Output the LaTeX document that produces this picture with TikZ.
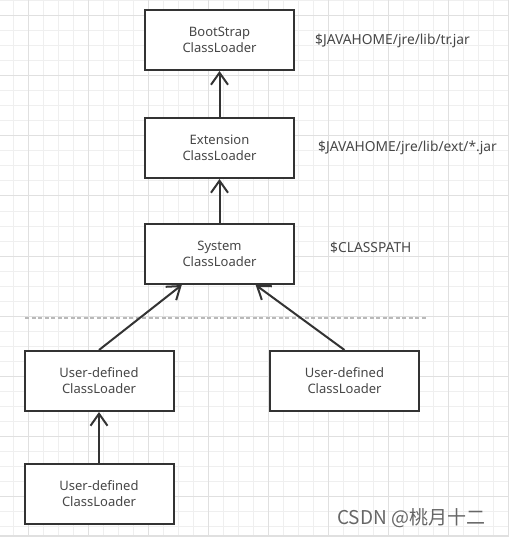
\documentclass[tikz,border=0pt]{standalone}
\usepackage{fontspec}
\setmainfont{Noto Sans}
\newfontfamily\cjk{Noto Sans CJK SC}
\usetikzlibrary{arrows.meta,calc}
\definecolor{ink}{HTML}{333333}
\definecolor{gridminor}{HTML}{EFEFEF}
\definecolor{gridmajor}{HTML}{E0E0E0}
\begin{document}
\begin{tikzpicture}[x=1pt,y=-1pt,
    loader/.style={draw=ink,line width=2pt,fill=white,minimum width=149pt,minimum height=60pt,
      align=center,inner sep=0pt,text=ink!90,font=\fontsize{13}{16}\selectfont},
    pathlabel/.style={anchor=west,inner sep=0pt,text=ink!90,font=\fontsize{13.8}{16}\selectfont},
    up/.style={draw=ink,line width=2pt,-{Straight Barb[length=12pt,width=17pt]}}]
  \useasboundingbox (0,0) rectangle (509,537);
  % background grid
  \foreach \x in {13.3,28.3,...,508.3} \draw[gridminor,line width=1pt] (\x,0) -- (\x,537);
  \foreach \y in {1,16,...,531} \draw[gridminor,line width=1pt] (0,\y) -- (509,\y);
  \foreach \x in {28.3,88.3,...,508.3} \draw[gridmajor,line width=1pt] (\x,0) -- (\x,537);
  \foreach \y in {16,76,...,496} \draw[gridmajor,line width=1pt] (0,\y) -- (509,\y);
  \draw[gridmajor,line width=1.5pt] (0,536) -- (509,536);
  \draw
    (219.5,40) node[loader] (boot){BootStrap\\ClassLoader}
    (219.5,148) node[loader] (ext){Extension\\ClassLoader}
    (219.5,254) node[loader] (sys){System\\ClassLoader}
    (99,381) node[loader] (user1){User-defined\\ClassLoader}
    (344.5,381) node[loader] (user2){User-defined\\ClassLoader}
    (99,494) node[loader] (user3){User-defined\\ClassLoader};
  \node[pathlabel] (bootpath) at (315,41) {\$JAVAHOME/jre/lib/tr.jar};
  \node[pathlabel] (extpath) at (318,148) {\$JAVAHOME/jre/lib/ext/*.jar};
  \node[pathlabel] (syspath) at (330,248) {\$CLASSPATH};
  % boundary between built-in and user loaders
  \coordinate (cutL) at (25,318);
  \coordinate (cutR) at (427,318);
  \draw[gray!55,line width=1.5pt,dash pattern=on 4pt off 2.5pt] (cutL) -- (cutR);
  \begin{scope}[up]
    \draw (ext) to (boot);
    \draw (sys) to (ext);
    \draw (user1.north) to ($(sys.south west)!0.25!(sys.south east)$);
    \draw (user2.north) to ($(sys.south west)!0.74!(sys.south east)$);
    \draw (user3) to (user1);
  \end{scope}
  \node[anchor=west,inner sep=0pt,text=black!60,font=\cjk\fontsize{19}{21}\selectfont] (mark) at (337,518) {CSDN @桃月十二};
\end{tikzpicture}
\end{document}
